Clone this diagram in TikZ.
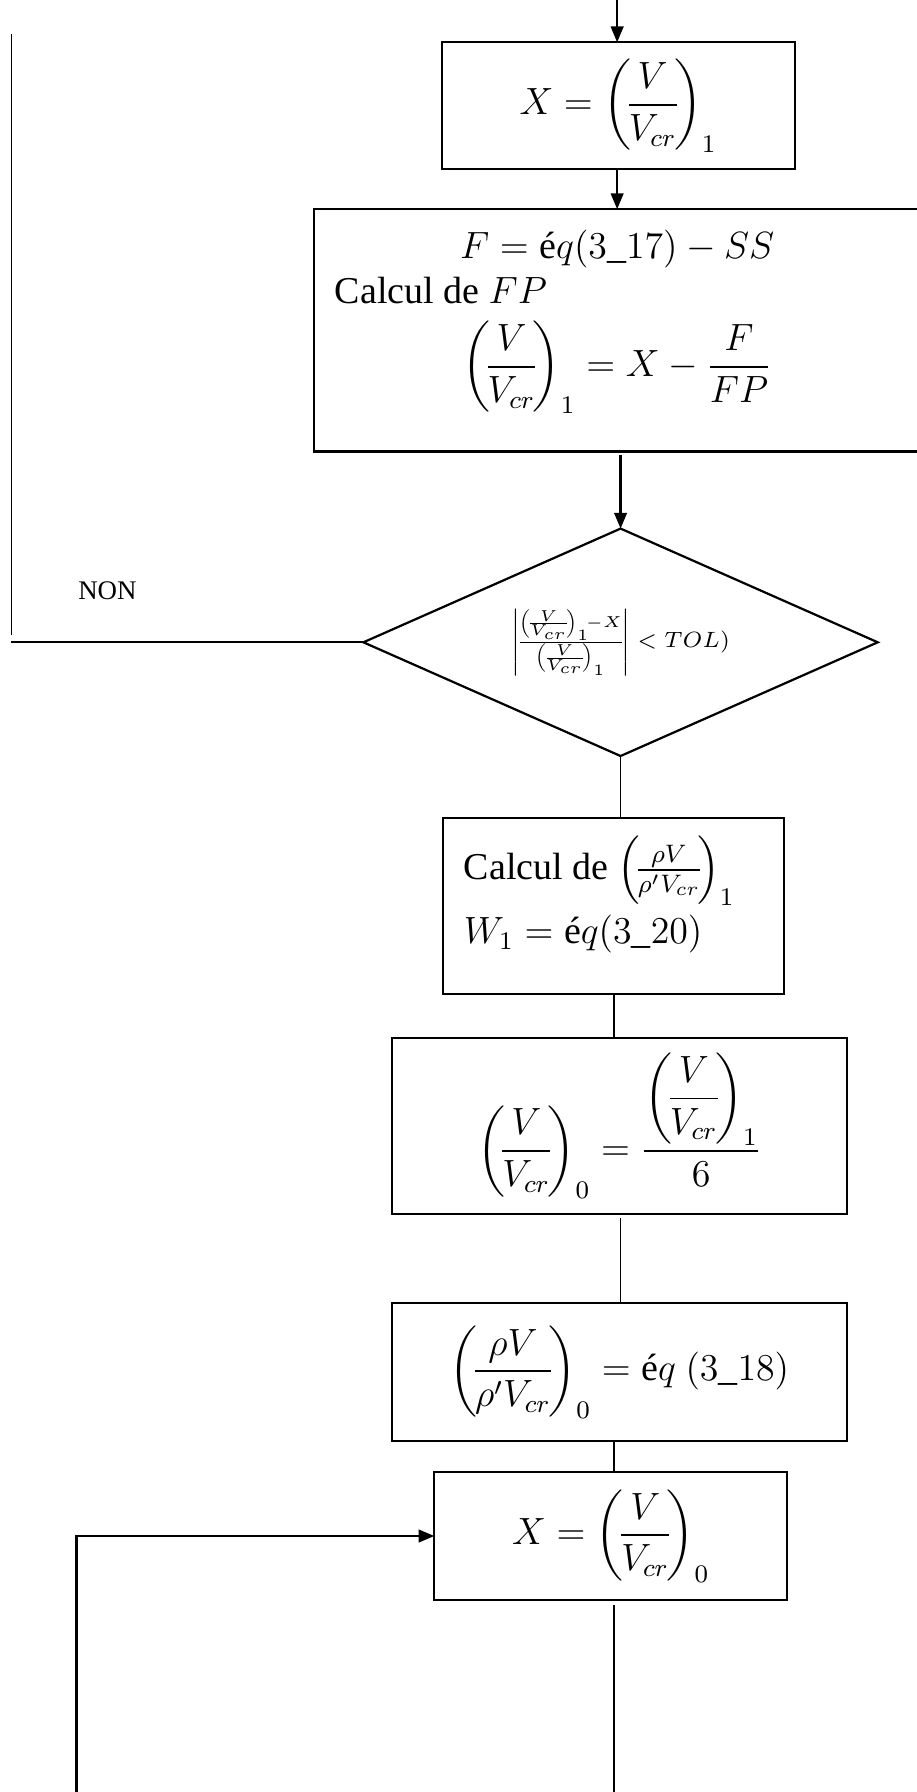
\documentclass[tikz,border=0pt]{standalone}
\usepackage{amsmath}
\usepackage{fontspec}
\setmainfont{Liberation Serif}
\usetikzlibrary{positioning,shapes.geometric,arrows.meta}

\begin{document}
\begin{tikzpicture}[x=0.3613pt,y=-0.3613pt,every node/.style={inner sep=0pt,outer sep=0pt,font=\fontsize{12}{14}\selectfont},box/.style={draw,line width=0.7pt,rectangle,align=flush center},cond/.style={draw,line width=0.7pt,diamond,shape aspect=2.26,minimum width=162.6pt,minimum height=71.9pt},flow/.style={line width=0.7pt,-{Triangle[length=5pt,width=4pt]}},link/.style={line width=0.5pt}]
\useasboundingbox (0,0) rectangle (802,1568);
% boxes of the iteration
\node[box,minimum width=111.6pt,minimum height=40.1pt] (x1) at (541,92.5) {$X=\left(\!\dfrac{V}{V_{cr}}\!\right)_1$};
\node[box,minimum width=191.5pt,minimum height=76.6pt,inner xsep=6.5pt,text width=178.5pt] (calc) at (540,289) {$F=\text{é}q(3\_17)-SS$\\ \makebox[\hsize][l]{Calcul de $FP$}\\[4.6pt] $\left(\!\dfrac{V}{V_{cr}}\!\right)_1=X-\dfrac{F}{FP}$\rule[-17pt]{0pt}{1pt}};
\node[cond] (test) at (543,562) {\fontsize{7}{8}\selectfont$\left|\!\frac{\left(\!\frac{V}{V_{cr}}\!\right)_1\!-X}{\left(\!\frac{V}{V_{cr}}\!\right)_1}\!\right|<TOL)$};
\node (non) at (94,517) {\fontsize{8.5}{10}\selectfont NON};
\node[box,minimum width=107.7pt,minimum height=55.6pt,inner xsep=6.5pt,text width=94.7pt,align=flush left] (rho1) at (537,793) {Calcul de $\left(\!\frac{\rho V}{\rho' V_{cr}}\!\right)_1$\\[2pt] $W_1=\text{é}q(3\_20)$\rule[-10.5pt]{0pt}{1pt}};
\node[box,minimum width=143.8pt,minimum height=55.6pt] (v0) at (542,985) {$\left(\!\dfrac{V}{V_{cr}}\!\right)_0=\dfrac{\left(\!\dfrac{V}{V_{cr}}\!\right)_1}{6}$};
\node[box,minimum width=143.8pt,minimum height=43.7pt] (rho0) at (542,1200.5) {$\left(\!\dfrac{\rho V}{\rho' V_{cr}}\!\right)_0=\text{é}q\ (3\_18)$};
\node[box,minimum width=111.6pt,minimum height=40.5pt] (x0) at (534.5,1344) {$X=\left(\!\dfrac{V}{V_{cr}}\!\right)_0$};
% free ends
\coordinate (entry) at (540,0);
\coordinate (nonTop) at (10,30);
\coordinate (nonBot) at (10,556);
\coordinate (loopB) at (67,1568);
\coordinate (exitB) at (537,1568);
% connectors
\draw[flow] (entry) -- (entry |- x1.north);
\draw[flow] (x1.south -| entry) -- (calc.north -| entry);
\draw[flow] ([yshift=-1pt]calc.south -| test.north) -- (test.north);
\draw[link] (nonTop) -- (nonBot);
\draw[link,line width=0.7pt] (test.west) -- (test.west -| nonTop);
\draw[link] (test.south) -- (test.south |- rho1.north);
\draw[link] (rho1.south) -- (rho1.south |- v0.north);
\draw[link] ([yshift=-1.5pt]v0.south -| test.south) -- (rho0.north -| test.south);
\draw[link] (rho0.south -| exitB) -- (x0.north -| exitB);
\draw[flow] (loopB) |- (x0.west);
\draw[link] ([yshift=-1.5pt]x0.south -| exitB) -- (exitB);
\end{tikzpicture}
\end{document}
